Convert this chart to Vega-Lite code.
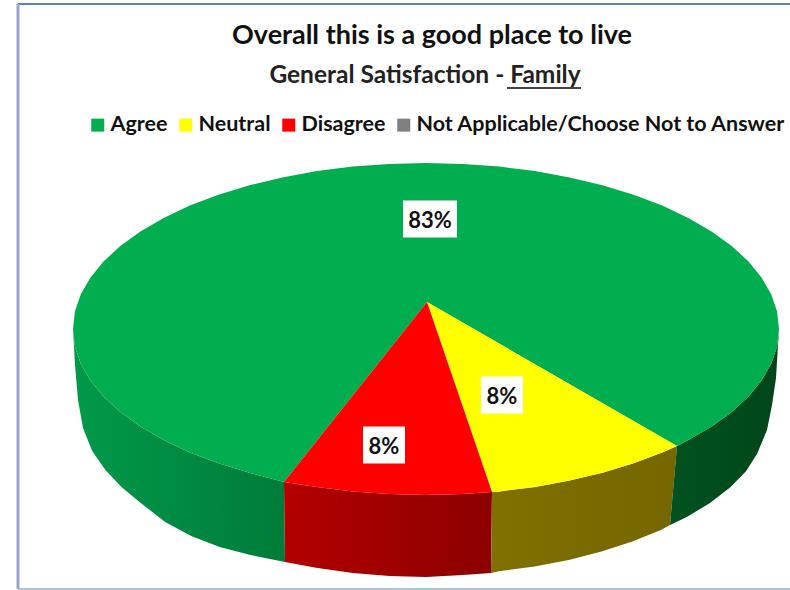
{
"$schema":"https://vega.github.io/schema/vega-lite/v6.json",
"width":790,"height":590,"padding":0,"autosize":{"type":"none"},
"background":"#ffffff",
"config":{"view":{"stroke":null},"font":"Lato"},
"title":{"text":"Overall this is a good place to live","anchor":"middle","dx":37,"dy":50,"offset":0,"fontSize":27,"font":"Lato","fontWeight":"bold","color":"#111111"},
"datasets":{
"face":[
{"part":"Agree","n":0,"x":427,"y":302},{"part":"Agree","n":1,"x":677,"y":446},{"part":"Agree","n":2,"x":688.3,"y":440.1},{"part":"Agree","n":3,"x":711.6,"y":426.6},{"part":"Agree","n":4,"x":731.7,"y":412},{"part":"Agree","n":5,"x":748.5,"y":396.5},{"part":"Agree","n":6,"x":761.7,"y":380.3},{"part":"Agree","n":7,"x":771.3,"y":363.5},{"part":"Agree","n":8,"x":777.1,"y":346.4},{"part":"Agree","n":9,"x":779,"y":329},{"part":"Agree","n":10,"x":777.1,"y":311.6},{"part":"Agree","n":11,"x":771.3,"y":294.5},{"part":"Agree","n":12,"x":761.7,"y":277.7},{"part":"Agree","n":13,"x":748.5,"y":261.5},{"part":"Agree","n":14,"x":731.7,"y":246},{"part":"Agree","n":15,"x":711.6,"y":231.4},{"part":"Agree","n":16,"x":688.3,"y":217.9},{"part":"Agree","n":17,"x":662.2,"y":205.6},{"part":"Agree","n":18,"x":633.5,"y":194.7},{"part":"Agree","n":19,"x":602.5,"y":185.2},{"part":"Agree","n":20,"x":569.6,"y":177.4},{"part":"Agree","n":21,"x":535.1,"y":171.1},{"part":"Agree","n":22,"x":499.4,"y":166.6},{"part":"Agree","n":23,"x":462.9,"y":163.9},{"part":"Agree","n":24,"x":426,"y":163},{"part":"Agree","n":25,"x":389.1,"y":163.9},{"part":"Agree","n":26,"x":352.6,"y":166.6},{"part":"Agree","n":27,"x":316.9,"y":171.1},{"part":"Agree","n":28,"x":282.4,"y":177.4},{"part":"Agree","n":29,"x":249.5,"y":185.2},{"part":"Agree","n":30,"x":218.5,"y":194.7},{"part":"Agree","n":31,"x":189.8,"y":205.6},{"part":"Agree","n":32,"x":163.7,"y":217.9},{"part":"Agree","n":33,"x":140.4,"y":231.4},{"part":"Agree","n":34,"x":120.3,"y":246},{"part":"Agree","n":35,"x":103.5,"y":261.5},{"part":"Agree","n":36,"x":90.3,"y":277.7},{"part":"Agree","n":37,"x":80.7,"y":294.5},{"part":"Agree","n":38,"x":74.9,"y":311.6},{"part":"Agree","n":39,"x":73,"y":329},{"part":"Agree","n":40,"x":74.9,"y":346.4},{"part":"Agree","n":41,"x":80.7,"y":363.5},{"part":"Agree","n":42,"x":90.3,"y":380.3},{"part":"Agree","n":43,"x":103.5,"y":396.5},{"part":"Agree","n":44,"x":120.3,"y":412},{"part":"Agree","n":45,"x":140.4,"y":426.6},{"part":"Agree","n":46,"x":163.7,"y":440.1},{"part":"Agree","n":47,"x":189.8,"y":452.4},{"part":"Agree","n":48,"x":218.5,"y":463.3},{"part":"Agree","n":49,"x":249.5,"y":472.8},{"part":"Agree","n":50,"x":284,"y":482},
{"part":"Neutral","n":0,"x":427,"y":302},{"part":"Neutral","n":1,"x":492,"y":492},{"part":"Neutral","n":2,"x":499.4,"y":491.4},{"part":"Neutral","n":3,"x":535.1,"y":486.9},{"part":"Neutral","n":4,"x":569.6,"y":480.6},{"part":"Neutral","n":5,"x":602.5,"y":472.8},{"part":"Neutral","n":6,"x":633.5,"y":463.3},{"part":"Neutral","n":7,"x":662.2,"y":452.4},{"part":"Neutral","n":8,"x":677,"y":446},
{"part":"Disagree","n":0,"x":427,"y":302},{"part":"Disagree","n":1,"x":284,"y":482},{"part":"Disagree","n":2,"x":316.9,"y":486.9},{"part":"Disagree","n":3,"x":352.6,"y":491.4},{"part":"Disagree","n":4,"x":389.1,"y":494.1},{"part":"Disagree","n":5,"x":426,"y":495},{"part":"Disagree","n":6,"x":462.9,"y":494.1},{"part":"Disagree","n":7,"x":492,"y":492}
],
"wall":[
{"part":"AgreeLeft","n":0,"x":73,"y":329},{"part":"AgreeLeft","n":1,"x":74.9,"y":346.4},{"part":"AgreeLeft","n":2,"x":80.7,"y":363.5},{"part":"AgreeLeft","n":3,"x":90.3,"y":380.3},{"part":"AgreeLeft","n":4,"x":103.5,"y":396.5},{"part":"AgreeLeft","n":5,"x":120.3,"y":412},{"part":"AgreeLeft","n":6,"x":140.4,"y":426.6},{"part":"AgreeLeft","n":7,"x":163.7,"y":440.1},{"part":"AgreeLeft","n":8,"x":189.8,"y":452.4},{"part":"AgreeLeft","n":9,"x":218.5,"y":463.3},{"part":"AgreeLeft","n":10,"x":249.5,"y":472.8},{"part":"AgreeLeft","n":11,"x":284,"y":482},{"part":"AgreeLeft","n":12,"x":285,"y":562},{"part":"AgreeLeft","n":13,"x":250.5,"y":555},{"part":"AgreeLeft","n":14,"x":219.7,"y":547},{"part":"AgreeLeft","n":15,"x":191.1,"y":536},{"part":"AgreeLeft","n":16,"x":165.2,"y":522},{"part":"AgreeLeft","n":17,"x":142,"y":504},{"part":"AgreeLeft","n":18,"x":122,"y":487.5},{"part":"AgreeLeft","n":19,"x":105.4,"y":470},{"part":"AgreeLeft","n":20,"x":92.2,"y":451},{"part":"AgreeLeft","n":21,"x":83,"y":428},{"part":"AgreeLeft","n":22,"x":78,"y":400},{"part":"AgreeLeft","n":23,"x":75,"y":365},
{"part":"Disagree","n":0,"x":284,"y":482},{"part":"Disagree","n":1,"x":316.9,"y":486.9},{"part":"Disagree","n":2,"x":352.6,"y":491.4},{"part":"Disagree","n":3,"x":389.1,"y":494.1},{"part":"Disagree","n":4,"x":426,"y":495},{"part":"Disagree","n":5,"x":462.9,"y":494.1},{"part":"Disagree","n":6,"x":492,"y":492},{"part":"Disagree","n":7,"x":491,"y":573},{"part":"Disagree","n":8,"x":462.7,"y":575},{"part":"Disagree","n":9,"x":426,"y":577},{"part":"Disagree","n":10,"x":389.3,"y":576},{"part":"Disagree","n":11,"x":353,"y":573},{"part":"Disagree","n":12,"x":317.5,"y":568},{"part":"Disagree","n":13,"x":285,"y":562},
{"part":"Neutral","n":0,"x":492,"y":492},{"part":"Neutral","n":1,"x":499.4,"y":491.4},{"part":"Neutral","n":2,"x":535.1,"y":486.9},{"part":"Neutral","n":3,"x":569.6,"y":480.6},{"part":"Neutral","n":4,"x":602.5,"y":472.8},{"part":"Neutral","n":5,"x":633.5,"y":463.3},{"part":"Neutral","n":6,"x":662.2,"y":452.4},{"part":"Neutral","n":7,"x":677,"y":446},{"part":"Neutral","n":8,"x":670,"y":525},{"part":"Neutral","n":9,"x":660.9,"y":530},{"part":"Neutral","n":10,"x":632.3,"y":541.6},{"part":"Neutral","n":11,"x":601.5,"y":551.6},{"part":"Neutral","n":12,"x":568.8,"y":559.9},{"part":"Neutral","n":13,"x":534.5,"y":566.4},{"part":"Neutral","n":14,"x":499,"y":571.2},{"part":"Neutral","n":15,"x":491,"y":573},
{"part":"AgreeRight","n":0,"x":677,"y":446},{"part":"AgreeRight","n":1,"x":688.3,"y":440.1},{"part":"AgreeRight","n":2,"x":711.6,"y":426.6},{"part":"AgreeRight","n":3,"x":731.7,"y":412},{"part":"AgreeRight","n":4,"x":748.5,"y":396.5},{"part":"AgreeRight","n":5,"x":761.7,"y":380.3},{"part":"AgreeRight","n":6,"x":771.3,"y":363.5},{"part":"AgreeRight","n":7,"x":777.1,"y":346.4},{"part":"AgreeRight","n":8,"x":779,"y":329},{"part":"AgreeRight","n":9,"x":776,"y":378},{"part":"AgreeRight","n":10,"x":772,"y":405},{"part":"AgreeRight","n":11,"x":767,"y":430},{"part":"AgreeRight","n":12,"x":757,"y":454},{"part":"AgreeRight","n":13,"x":746,"y":471.2},{"part":"AgreeRight","n":14,"x":730,"y":487.5},{"part":"AgreeRight","n":15,"x":710,"y":502.9},{"part":"AgreeRight","n":16,"x":686.8,"y":517.1},{"part":"AgreeRight","n":17,"x":670,"y":525}
],
"shares":[
{"part":"Agree","share":0.83,"x":430,"y":219},
{"part":"Neutral","share":0.08,"x":502,"y":395},
{"part":"Disagree","share":0.08,"x":384,"y":445}
],
"heading":[{"text":"General Satisfaction - Family","x":425,"y":76}],
"lines":[
{"edge":"underline","x":507,"x2":581,"y":88},
{"edge":"top","x":18,"x2":790,"y":4},
{"edge":"bottom","x":18,"x2":790,"y":589}
],
"side":[{"x":18,"y":4,"y2":589}]
},
"encoding":{
"x":{"field":"x","type":"quantitative","scale":{"domain":[0,790],"nice":false,"zero":false},"axis":null},
"y":{"field":"y","type":"quantitative","scale":{"domain":[590,0],"nice":false,"zero":false},"axis":null}
},
"layer":[
{"data":{"name":"wall"},"transform":[{"filter":"datum.part==='AgreeLeft'"}],
 "mark":{"type":"line","strokeWidth":0,"stroke":"transparent","fill":{"gradient":"linear","x1":0,"y1":0,"x2":1,"y2":0,"stops":[{"offset":0,"color":"#00994a"},{"offset":1,"color":"#007c38"}]}},
 "encoding":{"order":{"field":"n","type":"quantitative"}}},
{"data":{"name":"wall"},"transform":[{"filter":"datum.part==='Disagree'"}],
 "mark":{"type":"line","strokeWidth":0,"stroke":"transparent","fill":{"gradient":"linear","x1":0,"y1":0,"x2":1,"y2":0,"stops":[{"offset":0,"color":"#b30000"},{"offset":1,"color":"#8c0000"}]}},
 "encoding":{"order":{"field":"n","type":"quantitative"}}},
{"data":{"name":"wall"},"transform":[{"filter":"datum.part==='Neutral'"}],
 "mark":{"type":"line","strokeWidth":0,"stroke":"transparent","fill":{"gradient":"linear","x1":0,"y1":0,"x2":1,"y2":0,"stops":[{"offset":0,"color":"#7f7000"},{"offset":1,"color":"#756600"}]}},
 "encoding":{"order":{"field":"n","type":"quantitative"}}},
{"data":{"name":"wall"},"transform":[{"filter":"datum.part==='AgreeRight'"}],
 "mark":{"type":"line","strokeWidth":0,"stroke":"transparent","fill":{"gradient":"linear","x1":0,"y1":0,"x2":1,"y2":0,"stops":[{"offset":0,"color":"#00521f"},{"offset":1,"color":"#00451a"}]}},
 "encoding":{"order":{"field":"n","type":"quantitative"}}},
{"data":{"name":"face"},
 "mark":{"type":"line","strokeWidth":0,"stroke":"transparent"},
 "encoding":{
  "order":{"field":"n","type":"quantitative"},
  "fill":{"field":"part","type":"nominal","title":null,
   "scale":{"domain":["Agree","Neutral","Disagree","Not Applicable/Choose Not to Answer"],"range":["#00ae50","#ffff00","#ff0000","#808080"]},
   "legend":{"orient":"none","legendX":87,"legendY":114,"direction":"horizontal","columns":4,"symbolType":"square","symbolSize":169,"symbolStrokeWidth":0,"symbolOpacity":1,"labelFont":"Lato","labelFontWeight":"bold","labelFontSize":21.5,"labelColor":"#111111","labelLimit":400,"columnPadding":7,"labelOffset":2}}
 }},
{"data":{"name":"shares"},
 "mark":{"type":"rect","fill":"#ffffff","width":{"expr":"datum.share>0.5?54:42"},"height":37},
 "encoding":{}},
{"data":{"name":"shares"},
 "mark":{"type":"text","font":"Lato","fontWeight":"bold","fontSize":22,"color":"#111111","align":"center","baseline":"middle","dy":2},
 "encoding":{"text":{"field":"share","type":"quantitative","format":".0%"}}},
{"data":{"name":"heading"},
 "mark":{"type":"text","font":"Lato","fontWeight":"bold","fontSize":24.5,"color":"#222222","align":"center","baseline":"middle"},
 "encoding":{"text":{"field":"text","type":"nominal"}}},
{"data":{"name":"lines"},"transform":[{"filter":"datum.edge==='underline'"}],
 "mark":{"type":"rule","color":"#444444","strokeWidth":2},
 "encoding":{"x2":{"field":"x2"}}},
{"data":{"name":"lines"},"transform":[{"filter":"datum.edge==='top'"}],
 "mark":{"type":"rule","color":"#5f81ad","strokeWidth":2},
 "encoding":{"x2":{"field":"x2"}}},
{"data":{"name":"lines"},"transform":[{"filter":"datum.edge==='bottom'"}],
 "mark":{"type":"rule","color":"#a9c4e0","strokeWidth":2},
 "encoding":{"x2":{"field":"x2"}}},
{"data":{"name":"side"},
 "mark":{"type":"rule","color":"#98a6cf","strokeWidth":3},
 "encoding":{"y2":{"field":"y2"}}}
]
}
